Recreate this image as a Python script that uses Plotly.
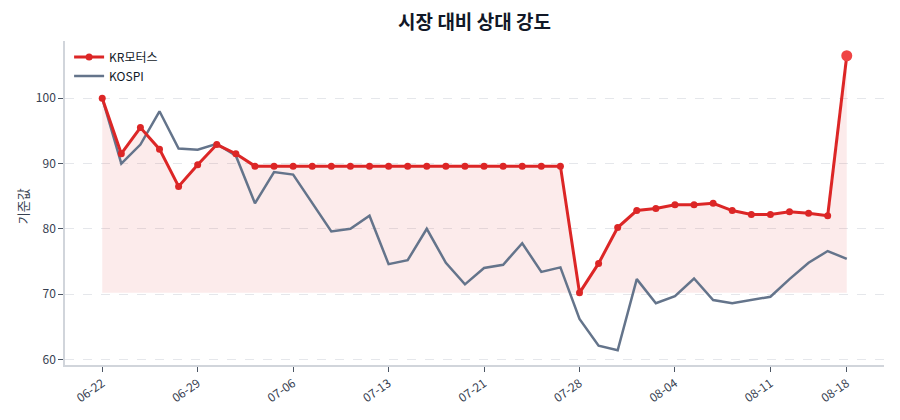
import plotly.graph_objects as go

# 거래일 (06-22 ~ 08-18)
dates = ["06-22", "06-23", "06-26", "06-27", "06-28", "06-29", "06-30", "07-03",
         "07-04", "07-05", "07-06", "07-07", "07-10", "07-11", "07-12", "07-13",
         "07-14", "07-17", "07-18", "07-19", "07-21", "07-24", "07-25", "07-26",
         "07-27", "07-28", "07-31", "08-01", "08-02", "08-03", "08-04", "08-07",
         "08-08", "08-09", "08-10", "08-11", "08-14", "08-16", "08-17", "08-18"]

# 기준값 (시작일 = 100)
kr_motors = [100.0, 91.5, 95.5, 92.2, 86.5, 89.8, 92.9, 91.5, 89.6, 89.6,
             89.6, 89.6, 89.6, 89.6, 89.6, 89.6, 89.6, 89.6, 89.6, 89.6,
             89.6, 89.6, 89.6, 89.6, 89.6, 70.2, 74.7, 80.2, 82.8, 83.1,
             83.7, 83.7, 83.9, 82.8, 82.2, 82.2, 82.6, 82.4, 82.0, 106.5]

kospi = [100.0, 90.0, 92.9, 98.0, 92.3, 92.1, 93.0, 91.2, 83.9, 88.7,
         88.3, 84.0, 79.6, 80.0, 82.0, 74.6, 75.2, 80.0, 74.8, 71.5,
         74.0, 74.5, 77.8, 73.4, 74.1, 66.2, 62.1, 61.4, 72.3, 68.6,
         69.7, 72.4, 69.1, 68.6, 69.1, 69.6, 72.3, 74.8, 76.6, 75.4]

tick_labels = ["06-22", "06-29", "07-06", "07-13", "07-21", "07-28", "08-04", "08-11", "08-18"]

RED = "#dc2626"
SLATE = "#64748b"
FONT = "Noto Sans CJK KR"

idx = list(range(len(dates)))
tick_idx = [dates.index(t) for t in tick_labels]
base = min(kr_motors)

fig = go.Figure()

# 채움 영역 기준선
fig.add_trace(go.Scatter(
    x=idx, y=[base] * len(idx), mode="lines",
    line=dict(width=0, color="rgba(0,0,0,0)"),
    showlegend=False, hoverinfo="skip"))

fig.add_trace(go.Scatter(
    x=idx, y=kr_motors, mode="lines",
    line=dict(width=0), fill="tonexty", fillcolor="rgba(220,38,38,0.09)",
    showlegend=False, hoverinfo="skip"))

fig.add_trace(go.Scatter(
    x=idx, y=kospi, mode="lines", name="KOSPI",
    line=dict(color=SLATE, width=2.5)))

fig.add_trace(go.Scatter(
    x=idx[:-1], y=kr_motors[:-1], mode="lines+markers", name="KR모터스",
    line=dict(color=RED, width=3), marker=dict(color=RED, size=7)))

# 마지막 구간 + 강조 점
fig.add_trace(go.Scatter(
    x=idx[-2:], y=kr_motors[-2:], mode="lines",
    line=dict(color=RED, width=3), showlegend=False, hoverinfo="skip"))
fig.add_trace(go.Scatter(
    x=idx[-1:], y=kr_motors[-1:], mode="markers",
    marker=dict(color="#ef4444", size=11), showlegend=False))

# 페이지 body 여백(8px)만큼 보정
fig.update_layout(
    width=900, height=420,
    margin=dict(l=57, r=24, t=33, b=63, autoexpand=False),
    paper_bgcolor="white", plot_bgcolor="white",
    font=dict(family=FONT, size=12, color="#374151"),
    title=dict(text="<b>시장 대비 상대 강도</b>", xref="paper", x=0.5, xanchor="center",
               yref="container", y=0.965, yanchor="middle",
               font=dict(family=FONT, size=19, color="#111827")),
    legend=dict(x=0.005, y=0.995, xanchor="left", yanchor="top",
                traceorder="reversed", bgcolor="rgba(255,255,255,0.8)",
                font=dict(size=12, color="#111827")),
    showlegend=True,
)

# y축 제목
fig.add_annotation(
    text="기준값", textangle=-90, xref="paper", yref="paper",
    x=-0.0525, y=0.49, xanchor="center", yanchor="middle", showarrow=False,
    font=dict(family=FONT, size=13, color="#374151"))

fig.update_xaxes(
    range=[-1.95, 40.95], tickmode="array", tickvals=tick_idx, ticktext=tick_labels,
    tickangle=-35, ticks="outside", ticklen=5, tickcolor="#4b5563",
    showgrid=False, showline=True, linecolor="#d1d5db", linewidth=1.5,
    zeroline=False, automargin=False)

fig.update_yaxes(
    range=[59.15, 108.76], tickvals=[60, 70, 80, 90, 100],
    ticks="outside", ticklen=5, tickcolor="#4b5563",
    showgrid=True, gridcolor="#e5e7eb", griddash="dash", gridwidth=1,
    showline=True, linecolor="#d1d5db", linewidth=1.5, zeroline=False,
    automargin=False)

fig.write_html("out.html")
